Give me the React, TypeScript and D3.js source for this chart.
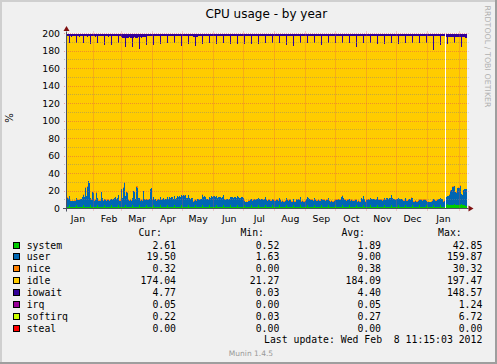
import { useEffect, useRef } from 'react'
import * as d3 from 'd3'

const W = 497
const H = 364

// daily samples over the last 400 days (null = no data)
const system = [
  2,2,2,4,2,2,2,2,2,2,4,2,2,2,2,2,2,4,2,2,
  2,2,2,2,4,2,2,2,2,2,2,4,2,2,2,2,2,2,4,2,
  2,2,2,2,2,4,2,2,2,2,2,2,4,2,2,2,2,2,2,4,
  2,2,2,2,2,2,4,2,2,2,2,2,2,4,2,2,2,2,2,2,
  4,2,2,2,2,2,2,4,2,2,2,2,2,2,4,2,2,2,2,2,
  2,4,2,2,2,2,2,2,4,2,2,2,2,2,2,4,2,2,2,2,
  2,2,4,2,2,2,2,2,2,4,2,2,2,2,2,2,4,2,2,2,
  2,2,2,4,2,2,2,2,2,2,4,2,2,2,2,2,2,4,2,2,
  2,2,2,2,4,2,2,2,2,2,2,4,2,2,2,2,2,2,4,2,
  2,2,2,2,2,4,2,2,2,2,2,2,4,2,2,2,2,2,2,4,
  2,2,2,2,2,2,4,2,2,2,2,2,2,4,2,2,2,2,2,2,
  4,2,2,2,2,2,2,4,2,2,2,2,2,2,4,2,2,2,2,2,
  2,4,2,2,2,2,2,2,4,2,2,2,2,2,2,4,2,2,2,2,
  2,2,4,2,2,2,2,2,2,4,2,2,2,2,2,2,4,2,2,2,
  2,2,2,4,2,2,2,2,2,2,4,2,2,2,2,2,2,4,2,2,
  2,2,2,2,4,2,2,2,2,2,2,4,2,2,2,2,2,2,4,2,
  2,2,2,2,2,4,2,2,2,2,2,2,4,2,2,2,2,2,2,4,
  2,2,2,2,2,2,4,2,2,2,2,2,2,4,2,2,2,2,2,2,
  4,2,2,2,2,2,2,4,2,2,2,2,2,2,4,2,2,2,2,null,
  3.5,5,3.5,3.5,3.5,3.5,3.5,3.5,5,3.5,3.5,3.5,3.5,3.5,3.5,5,3.5,3.5,3.5,2.6,
]

const user = [
  10.5,10,9,10,7,6.5,7,6.5,7,7,8,8,7.5,8,9,9,11,12,11,22,
  12,23,29,27,8,8,17,16,7,8,16,8,7,7,7,17,10,7,7,8,
  7,8,8,7,8,7,8,9,10,11,9,10,11,7,7,20,10,22,27,10,
  17,16,8,7,8,7,8,18,17,9,23,22,10,8,7,8,7,18,9,8,
  7,8,8,9,20,21,8,9,8,9,7,8,9,8,9,8,9,10,8,9,
  9,9,9,11,10,11,11,9,10,9,10,12,11,12,11,11,12,13,12,13,
  10,10,11,10,9,10,10,6,7,6,7,9,9,8,9,9,12,11,12,11,
  9,9,8,9,10,12,11,12,12,11,10,10,11,11,11,10,11,11,9,8,
  9,9,8,9,9,11,11,10,11,11,10,10,11,10,10,11,11,10,5,5,
  6,5,7,7,8,7,7,8,9,8,9,9,8,9,8,9,9,8,9,9,
  8,7,8,8,7,7,7,8,7,7,8,8,7,8,8,6,7,6,6,7,
  8,8,7,8,8,6,6,7,6,6,9,8,9,8,9,6,7,6,6,7,
  9,9,10,9,8,8,8,7,8,8,7,7,8,7,7,7,8,8,8,7,
  8,8,8,7,6,7,6,6,7,6,8,8,9,8,8,11,10,10,8,8,
  7,8,8,7,7,8,7,7,7,8,6,6,7,6,6,10,9,10,9,6,
  8,8,9,8,8,9,9,9,9,8,9,9,8,8,8,8,7,8,8,8,
  10,10,9,10,10,11,10,9,9,8,9,9,8,9,9,9,8,7,7,8,
  7,7,8,9,8,10,8,6,6,7,6,6,7,6,8,8,7,8,8,8,
  5,5,6,5,5,6,7,7,8,7,7,8,9,9,8,9,9,6,7,null,
  9.5,9.5,10.5,12.5,16.5,17.5,21.5,21.5,20.5,15.5,14.5,19.5,20.5,19.5,22.5,11.5,11.5,17.5,18.5,19.5,
]

const nice = [
  1.5,1.5,1,.3,.3,.3,.3,.3,.3,.3,.3,.3,.3,.3,.3,.3,.3,.3,.3,.3,
  .3,.3,.8,.3,.3,.3,.3,.3,.3,.3,.3,.3,.3,.3,.3,.3,.3,.3,.3,.3,
  .3,.3,.3,.3,.3,.3,.3,.3,.3,.3,.3,.3,.3,.3,.3,.3,.3,.3,1,.3,
  .3,.3,.3,.3,.3,.3,.3,.3,.3,.3,.3,2,.3,.3,.3,.3,.3,.3,.3,.3,
  .3,.3,.3,.3,.3,.3,.3,.3,.3,.3,.3,.3,.3,.3,.3,.3,.3,.3,.3,.3,
  .3,.3,.3,.3,.3,.3,.3,.3,.3,.3,.3,.3,.3,.3,.3,.3,.3,.3,1.2,.3,
  .3,.3,.3,.3,.3,.3,.3,.3,.3,.3,.3,.3,.3,.3,.3,.3,.3,.3,.3,.3,
  .3,.3,.3,.3,.3,.3,.3,.3,.3,.3,.3,.3,.3,.3,.3,.3,.3,.3,.3,.3,
  .3,.3,.3,.3,.3,.3,.3,.3,.3,.3,.3,.3,.3,.3,.3,.3,.3,.3,.3,.3,
  .3,.3,.3,.3,.3,.3,.3,.3,.3,.3,.3,.3,.3,.3,.3,.3,.3,.3,.3,.3,
  .3,.3,.3,.3,.3,.3,.3,.3,.3,.3,.3,.3,.3,.3,.3,.3,.3,.3,.3,.3,
  .3,.3,.3,.3,.3,.3,.3,.3,.3,.3,.3,.3,.3,.3,.3,.3,.3,.3,.3,.3,
  .3,.3,.3,.3,.3,.3,.3,.3,.3,.3,.3,.3,.3,.3,.3,.3,.3,.3,.3,.3,
  .3,.3,.3,.3,.3,.3,.3,.3,.3,.3,.3,.3,.3,.3,.3,.3,1.5,.3,.3,.3,
  .3,.3,.3,.3,.3,.3,.3,.3,.3,.3,.3,.3,.3,.3,.3,.3,.3,.3,.3,.3,
  .3,.3,.3,.3,.3,.3,.3,.3,.3,.3,.3,.3,.3,.3,.3,.3,.3,.3,.3,.3,
  .3,.3,.3,.3,.3,.3,.3,.3,.3,.3,.3,.3,.3,.3,.3,.3,.3,.3,.3,.3,
  .3,.3,.3,.3,.3,1.5,.3,.3,.3,.3,.3,.3,.3,.3,.3,.3,.3,.3,.3,.3,
  .3,.3,.3,.3,.3,.3,.3,.3,.3,.3,.3,.3,.3,.3,.3,.3,.3,.3,.3,null,
  .3,.3,.3,.3,.8,.3,.3,.3,.3,.3,.3,.3,.3,.3,.3,.3,.3,.3,.3,.32,
]

const iowait = [
  3,3,3,11,3,3.5,3,3,3,3,11,3,3,3.5,3,3,3,11,3,3,
  3,3.5,3,3,12,3,3,3,3,3.5,3,11,3,3,3,3,3,3,12.5,3,
  3,3,3.5,3,3,12.5,3,3,3,3,3,3,11,3,3,4,4.5,5,4.5,15,
  4.5,5,4.5,4,4.5,5,15,4.5,4,4.5,5,4.5,4,17,4,4.5,4,3.5,4,3.5,
  13,3,3,3,3,3,3,13,3,3,3,3,3,3,12,3,3,3,3,3,
  3,11,3,3,3,3,3,3,11,3,3,3,3,3,3,14.5,3,3,3,3,
  3,3,12,3,3,3,3,3.5,4,14.5,4,3.5,3,3,3,3,12,3,3,3,
  3,3,3,11,3,3,3,3,3,3,12,3,3,3,3,3,3,11,3,3,
  3,3,3,3,12,3,3,3,3,3,3,12,3,3,3,3,3,3,12,3,
  3,3,3,3,3,12,3,3,3,3,3,3,12,3,3,3,3,3,3,11,
  3,3,3,3,3,3,11,3,3,3,3,3,3,11,3,3,3,3,3,3,
  13,3,3,3,3,3,3,14,3,3,3,3,3,3,11,3,3,3,3,3,
  3,11,3,3,3,3,3,3,11,3,3,3,3,3,3,13,3,3,3,3,
  3,3,11,3,3,3,3,3,3,11,3,3,3,3,3,3,11,3,3,3,
  3,3,3,11,3,3,3,3,3,3,15,3,3,3,3,3,3,11,3,3,
  3,3,3,3,11,3,3,3,3,3,3,12,3,3,3,3,3,3,12,3,
  3,3,3,3,3,11,3,3,3,3,3,3,12,3,3,3,3,3,3,11,
  3,3,3,3,3,3,11,3,3,3,3,3,3,11,3,3,3,3,3,3,
  11,3,3,3,3,3,3,18,3,3,3,3,3,3,13,3,3,3,3,null,
  4,12,4,4,4,4,4,4,11,4,4,4,4,4,4,15,4,4,4,4.8,
]

// 30-day samples for the thin series
const irq = [0.05, 0.06, 0.05, 0.05, 0.04, 0.05, 0.05, 0.05, 0.05, 0.04, 0.05, 0.05, 0.05, 0.05]
const softirq = [0.3, 0.3, 0.28, 0.27, 0.26, 0.27, 0.27, 0.26, 0.27, 0.27, 0.26, 0.25, 0.24, 0.22]
const steal = [0, 0, 0, 0, 0, 0, 0, 0, 0, 0, 0, 0, 0, 0]

const TOTAL = 200

const seriesNames = ['system', 'user', 'nice', 'idle', 'iowait', 'irq', 'softirq', 'steal']
const seriesColors = ['#00cc00', '#0066b3', '#ff8000', '#ffcc00', '#330099', '#990099', '#ccff00', '#ff0000']
const curVals = ['2.61', '19.50', '0.32', '174.04', '4.77', '0.05', '0.22', '0.00']
const minVals = ['0.52', '1.63', '0.00', '21.27', '0.03', '0.00', '0.03', '0.00']
const avgVals = ['1.89', '9.00', '0.38', '184.09', '4.40', '0.05', '0.27', '0.00']
const maxVals = ['42.85', '159.87', '30.32', '197.47', '148.57', '1.24', '6.72', '0.00']
const yTicks = [0, 20, 40, 60, 80, 100, 120, 140, 160, 180, 200]

const title = 'CPU usage - by year'
const lastUpdate = 'Last update: Wed Feb  8 11:15:03 2012'

const DAY = 864e5
const END = Date.UTC(2012, 1, 8, 11, 15, 3)
const START = END - 400 * DAY

export default function App() {
  const ref = useRef<SVGSVGElement>(null)

  useEffect(() => {
    if (!ref.current) return
    const svg = d3.select(ref.current)
    svg.selectAll('*').remove()

    const left = 66, right = 466.5, top = 33.5, bottom = 208.5
    const x = d3.scaleUtc().domain([START, END]).range([left, right])
    const y = d3.scaleLinear().domain([0, 200]).range([bottom, top])

    // background + 3d frame
    svg.append('rect').attr('width', W).attr('height', H).attr('fill', '#f0f0f0')
    svg.append('rect').attr('width', W).attr('height', 2).attr('fill', '#cfcfcf')
    svg.append('rect').attr('width', 2).attr('height', H).attr('fill', '#cfcfcf')
    svg.append('rect').attr('y', H - 2).attr('width', W).attr('height', 2).attr('fill', '#9e9e9e')
    svg.append('rect').attr('x', W - 2).attr('width', 2).attr('height', H).attr('fill', '#9e9e9e')

    svg.append('rect')
      .attr('x', left).attr('y', top)
      .attr('width', right - left).attr('height', bottom - top)
      .attr('fill', '#ffffff')

    const rows = d3.range(user.length).map((i) => {
      const m = Math.min(irq.length - 1, Math.floor(i / 30))
      const ok = user[i] != null
      const r: any = {
        ok,
        system: system[i] ?? 0,
        user: user[i] ?? 0,
        nice: nice[i] ?? 0,
        iowait: iowait[i] ?? 0,
        irq: ok ? irq[m] : 0,
        softirq: ok ? softirq[m] : 0,
        steal: ok ? steal[m] : 0,
      }
      r.idle = ok ? TOTAL - r.system - r.user - r.nice - r.iowait - r.irq - r.softirq - r.steal : 0
      return r
    })

    const layers = d3.stack<any>().keys(seriesNames)(rows)

    const area = d3.area<any>()
      .defined((p) => p != null)
      .x((p) => x(p.t))
      .y0((p) => y(p.y0))
      .y1((p) => y(p.y1))
      .curve(d3.curveStepAfter)

    const plot = svg.append('g')
    layers.forEach((layer, k) => {
      const pts: any[] = []
      rows.forEach((r, i) => {
        if (!r.ok) { pts.push(null); return }
        pts.push({ t: START + i * DAY, y0: layer[i][0], y1: layer[i][1] })
        if (i === rows.length - 1 || !rows[i + 1].ok) {
          pts.push({ t: START + (i + 1) * DAY, y0: layer[i][0], y1: layer[i][1] })
        }
      })
      plot.append('path')
        .attr('d', area(pts))
        .attr('fill', seriesColors[k])
        .attr('shape-rendering', 'crispEdges')
    })

    // grid on top of the data
    const grid = svg.append('g').attr('stroke-dasharray', '1,1').attr('stroke-width', 1)
    d3.range(10, 201, 10).forEach((v) => {
      const yy = Math.floor(y(v)) + 0.5
      grid.append('line')
        .attr('x1', left - 2).attr('x2', right + 2)
        .attr('y1', yy).attr('y2', yy)
        .attr('stroke', v % 20 === 0 ? 'rgba(225,80,80,0.5)' : 'rgba(128,128,128,0.45)')
    })
    d3.utcMonths(new Date(START), new Date(END)).forEach((m) => {
      const xx = Math.floor(x(m)) + 0.5
      grid.append('line')
        .attr('x1', xx).attr('x2', xx)
        .attr('y1', top - 2).attr('y2', bottom + 3)
        .attr('stroke', 'rgba(225,80,80,0.5)')
    })

    // axes
    const axisColor = '#4a5060'
    svg.append('line')
      .attr('x1', left - 3).attr('x2', right + 2)
      .attr('y1', bottom).attr('y2', bottom)
      .attr('stroke', axisColor)
    svg.append('line')
      .attr('x1', left + 0.5).attr('x2', left + 0.5)
      .attr('y1', bottom + 3).attr('y2', top - 2)
      .attr('stroke', axisColor)
    svg.append('path')
      .attr('d', `M${left + 0.5},${top - 7.5}L${left + 3.5},${top - 2.5}L${left - 2.5},${top - 2.5}Z`)
      .attr('fill', '#7f1010')
    svg.append('path')
      .attr('d', `M${right + 7},${bottom}L${right + 2},${bottom - 3}L${right + 2},${bottom + 3}Z`)
      .attr('fill', '#7f1010')

    const sans = '"DejaVu Sans", sans-serif'
    const mono = '"DejaVu Sans Mono", monospace'

    svg.append('g')
      .selectAll('text')
      .data(yTicks)
      .join('text')
      .attr('x', 60)
      .attr('y', (d) => y(d) + 3.4)
      .attr('text-anchor', 'end')
      .attr('font-family', sans).attr('font-size', 9.3)
      .attr('fill', '#000')
      .text((d) => d)

    const mids = d3.utcMonths(d3.utcMonth.floor(new Date(START)), new Date(END))
      .map((m) => new Date(+m + 15.5 * DAY))
      .filter((m) => x(m) > left && x(m) < right)
    svg.append('g')
      .selectAll('text')
      .data(mids)
      .join('text')
      .attr('x', (d) => x(d))
      .attr('y', 221.7)
      .attr('text-anchor', 'middle')
      .attr('font-family', sans).attr('font-size', 9.3)
      .attr('fill', '#000')
      .text((d) => d3.utcFormat('%b')(d))

    svg.append('text')
      .attr('transform', 'translate(12.5,118) rotate(-90)')
      .attr('text-anchor', 'middle')
      .attr('font-family', sans).attr('font-size', 10)
      .text('%')

    svg.append('text')
      .attr('x', (left + right) / 2).attr('y', 18)
      .attr('text-anchor', 'middle')
      .attr('font-family', sans).attr('font-size', 12)
      .text(title)

    svg.append('text')
      .attr('transform', 'translate(484.5,56.5) rotate(90)')
      .attr('text-anchor', 'middle')
      .attr('font-family', sans).attr('font-size', 7.8)
      .attr('fill', '#b0b0b0')
      .attr('textLength', 102).attr('lengthAdjust', 'spacing')
      .text('RRDTOOL / TOBI OETIKER')

    // legend table
    const leg = svg.append('g').attr('font-family', mono).attr('font-size', 9.8).attr('fill', '#000')
    const heads = [['Cur:', 162], ['Min:', 264], ['Avg:', 365], ['Max:', 461.7]] as const
    heads.forEach(([t, xx]) => {
      leg.append('text').attr('x', xx).attr('y', 236.3).attr('text-anchor', 'end').text(t)
    })
    const cols = [curVals, minVals, avgVals, maxVals]
    const colX = [176, 279.3, 381, 482.3]
    seriesNames.forEach((name, k) => {
      const cy = 245 + k * 11.9
      leg.append('rect')
        .attr('x', 13.5).attr('y', Math.round(cy - 3.5) + 0.5)
        .attr('width', 6).attr('height', 6)
        .attr('fill', seriesColors[k]).attr('stroke', '#000').attr('stroke-width', 1)
      leg.append('text').attr('x', 26.7).attr('y', cy + 3.5).text(name)
      cols.forEach((vals, c) => {
        leg.append('text').attr('x', colX[c]).attr('y', cy + 3.5).attr('text-anchor', 'end').text(vals[k])
      })
    })
    leg.append('text')
      .attr('x', 482.3).attr('y', 342.9)
      .attr('text-anchor', 'end')
      .attr('xml:space', 'preserve')
      .style('white-space', 'pre')
      .text(lastUpdate)

    svg.append('text')
      .attr('x', 251).attr('y', 356)
      .attr('text-anchor', 'middle')
      .attr('font-family', sans).attr('font-size', 7.5)
      .attr('fill', '#999')
      .text('Munin 1.4.5')
  }, [])

  return <svg ref={ref} width={W} height={H} style={{ position: 'absolute', left: 0, top: 0, display: 'block' }} />
}
